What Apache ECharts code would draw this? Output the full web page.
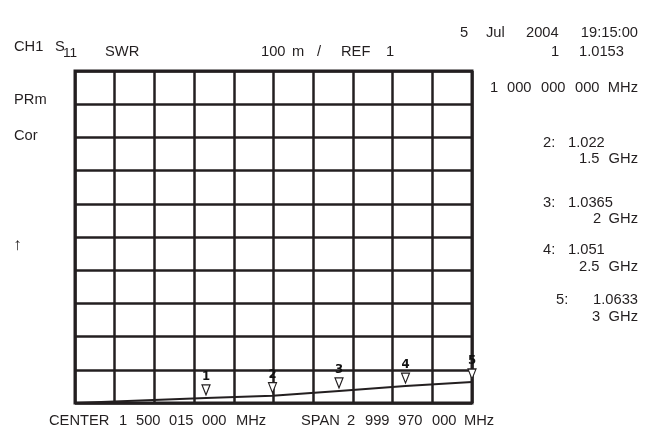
<!DOCTYPE html>
<html><head><meta charset="utf-8">
<script src="https://cdn.jsdelivr.net/npm/echarts@6/dist/echarts.min.js"></script>
<style>html,body{margin:0;padding:0;background:#fff}#c{width:655px;height:431px}</style>
</head><body><div id="c"></div>
<script>
// Trace: SWR vs frequency (GHz)
const traceFreqGHz = [0.015, 1.0, 1.5, 2.0, 2.5, 3.0];
const traceSWR     = [1.000, 1.0153, 1.022, 1.0365, 1.051, 1.0633];
// Markers
const markerIds     = ['1', '2', '3', '4', '5'];
const markerFreqGHz = [1.0, 1.5, 2.0, 2.5, 3.0];
const markerSWR     = [1.0153, 1.022, 1.0365, 1.051, 1.0633];
// Display scale
const startGHz = 0.015, stopGHz = 3.0;
const refValue = 1, scalePerDiv = 0.1, divisions = 10;

const INK = '#231f20';
const FONT = "'Liberation Sans', Arial, sans-serif";
const SX = 1.05;
function T(s, x, y, align, size) {
  return { type: 'text', x: x, y: y, scaleX: SX, z: 10,
    style: { text: s, fill: INK, font: (size || 14) + 'px ' + FONT,
      textAlign: align || 'left', align: align || 'left',
      textVerticalAlign: 'middle', verticalAlign: 'middle' } };
}
const texts = [
  T('CH1', 14, 47), T('S', 55, 47), T('11', 63, 53, 'left', 13),
  T('SWR', 105, 52),
  T('100', 261, 52), T('m', 292, 52), T('/', 317, 52), T('REF', 341, 52), T('1', 386, 52),
  T('5', 460, 33), T('Jul', 486, 33), T('2004', 526, 33), T('19:15:00', 638, 33, 'right'),
  T('1', 551, 52), T('1.0153', 579, 52),
  T('1', 490, 88), T('000', 507, 88), T('000', 541, 88), T('000', 575, 88), T('MHz', 638, 88, 'right'),
  T('PRm', 14, 100), T('Cor', 14, 136), T('\u2191', 13, 245, 'left', 17),
  T('2:', 543, 143), T('1.022', 568, 143), T('1.5', 579, 159), T('GHz', 638, 159, 'right'),
  T('3:', 543, 203), T('1.0365', 568, 203), T('2', 593, 219), T('GHz', 638, 219, 'right'),
  T('4:', 543, 250), T('1.051', 568, 250), T('2.5', 579, 267), T('GHz', 638, 267, 'right'),
  T('5:', 556, 300), T('1.0633', 638, 300, 'right'), T('3', 592, 317), T('GHz', 638, 317, 'right'),
  T('CENTER', 49, 421), T('1', 119, 421), T('500', 136, 421), T('015', 169, 421), T('000', 202, 421), T('MHz', 236, 421),
  T('SPAN', 301, 421), T('2', 347, 421), T('999', 365, 421), T('970', 398, 421), T('000', 432, 421), T('MHz', 464, 421)
];

const chart = echarts.init(document.getElementById('c'), null, { renderer: 'canvas' });
const gridLine = { show: true, lineStyle: { color: INK, width: 2.5 } };
chart.setOption({
  animation: false,
  backgroundColor: '#fff',
  grid: { left: 75, top: 71, width: 397, height: 332, show: true, borderColor: INK, borderWidth: 3, backgroundColor: 'transparent' },
  xAxis: [
    { type: 'value', min: startGHz, max: stopGHz, show: false, splitLine: { show: false } },
    { type: 'value', min: 0, max: divisions, interval: 1, position: 'bottom',
      axisLine: { show: false }, axisTick: { show: false }, axisLabel: { show: false }, splitLine: gridLine }
  ],
  yAxis: { type: 'value', min: refValue, max: refValue + scalePerDiv * divisions, interval: scalePerDiv,
    axisLine: { show: false }, axisTick: { show: false }, axisLabel: { show: false }, splitLine: gridLine },
  series: [
    { type: 'line', xAxisIndex: 0, data: traceFreqGHz.map((f, i) => [f, traceSWR[i]]),
      showSymbol: false, symbol: 'none', lineStyle: { color: INK, width: 2 }, z: 5, clip: true },
    { type: 'scatter', xAxisIndex: 0, z: 6,
      data: markerFreqGHz.map((f, i) => ({ value: [f, markerSWR[i]], name: markerIds[i] })),
      symbol: 'path://M0,0 L10,0 L5,11 Z', symbolSize: [8, 10], symbolOffset: [0, -8],
      itemStyle: { color: '#fff', borderColor: INK, borderWidth: 1.2, opacity: 1 },
      label: { show: true, position: 'top', distance: 1, formatter: p => p.name,
        color: '#111', fontWeight: 'bold', fontSize: 13,
        fontFamily: "'Liberation Sans Narrow', 'DejaVu Sans Condensed', sans-serif" } }
  ],
  graphic: texts
});
</script></body></html>
